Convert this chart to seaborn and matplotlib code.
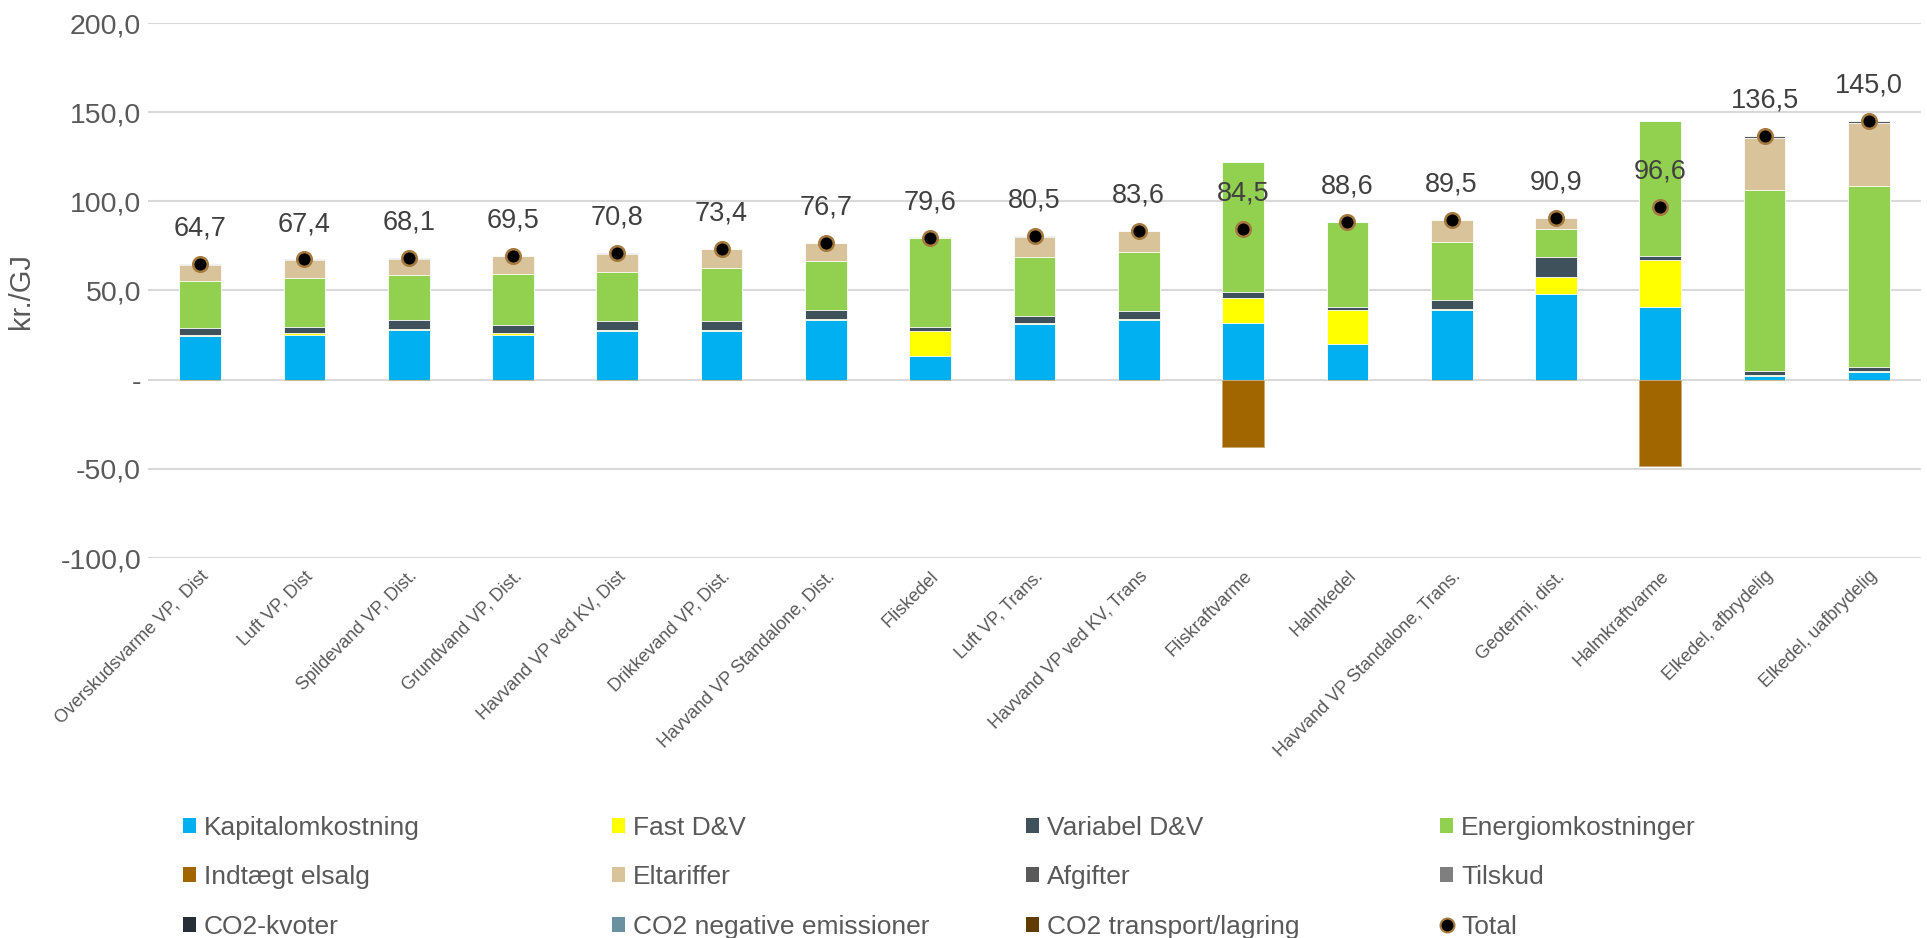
import numpy as np
import pandas as pd
import matplotlib
matplotlib.use("Agg")
import matplotlib.pyplot as plt
import seaborn as sns
from matplotlib.patches import Patch
from matplotlib.lines import Line2D

categories = ["Overskudsvarme VP,  Dist", "Luft VP, Dist", "Spildevand VP, Dist.", "Grundvand VP, Dist.",
              "Havvand VP ved KV, Dist", "Drikkevand VP, Dist.", "Havvand VP Standalone, Dist.",
              "Fliskedel", "Luft VP, Trans.", "Havvand VP ved KV, Trans", "Fliskraftvarme", "Halmkedel",
              "Havvand VP Standalone, Trans.", "Geotermi, dist.", "Halmkraftvarme",
              "Elkedel, afbrydelig", "Elkedel, uafbrydelig"]

kapital   = [24.3, 25.3, 27.7, 25.1, 27.2, 27.2, 33.3, 13.1, 31.1, 33.3, 31.8, 20.0, 38.9, 48.3, 40.6, 2.2, 4.1]
fast_dv   = [1.0, 0.8, 0.9, 0.9, 0.8, 0.8, 0.9, 14.0, 0.9, 0.9, 14.0, 19.3, 0.9, 9.0, 26.6, 0.4, 0.9]
variabel  = [3.4, 3.7, 4.7, 4.7, 5.1, 5.1, 4.7, 2.2, 3.7, 4.3, 3.4, 1.5, 4.7, 11.6, 2.1, 2.0, 2.2]
energi    = [26.6, 27.2, 25.3, 28.5, 27.0, 29.5, 27.5, 50.3, 33.0, 32.9, 72.8, 47.6, 32.8, 15.8, 75.7, 101.9, 101.3]
elsalg    = [0, 0, 0, 0, 0, 0, 0, 0, 0, 0, -37.5, 0, 0, 0, -48.4, 0, 0]
eltariffer = [9.1, 10.1, 9.2, 10.0, 10.4, 10.5, 10.0, 0, 11.5, 12.0, 0, 0, 12.0, 6.0, 0, 29.2, 35.4]
afgifter  = [0.3, 0.3, 0.3, 0.3, 0.3, 0.3, 0.3, 0.2, 0.3, 0.2, 0, 0.2, 0.2, 0.2, 0, 0.8, 1.1]
tilskud = [0] * 17
co2_kvoter = [0] * 17
co2_neg = [0] * 17
co2_trans = [0] * 17
total = [64.7, 67.4, 68.1, 69.5, 70.8, 73.4, 76.7, 79.6, 80.5, 83.6, 84.5, 88.6, 89.5, 90.9, 96.6, 136.5, 145.0]

series_names = ["Kapitalomkostning", "Fast D&V", "Variabel D&V", "Energiomkostninger",
                "Indtægt elsalg", "Eltariffer", "Afgifter", "Tilskud",
                "CO2-kvoter", "CO2 negative emissioner", "CO2 transport/lagring"]
colors = {"Kapitalomkostning": "#00B0F0", "Fast D&V": "#FFFF00", "Variabel D&V": "#3F525C",
          "Energiomkostninger": "#92D050", "Indtægt elsalg": "#A16600", "Eltariffer": "#D9C39A",
          "Afgifter": "#595959", "Tilskud": "#7F7F7F", "CO2-kvoter": "#262F38",
          "CO2 negative emissioner": "#6A919F", "CO2 transport/lagring": "#603C00"}

sns.set_style("white")
plt.rcParams['font.family'] = ['Liberation Sans', 'DejaVu Sans']

fig = plt.figure(figsize=(19.27, 9.38), dpi=100)
ax = fig.add_axes([148/1927, 1 - 558/938, (1921 - 148)/1927, (558 - 23)/938])

# positive stack, drawn from the full cumulative height downwards
pos_stack = [("Kapitalomkostning", kapital), ("Fast D&V", fast_dv), ("Variabel D&V", variabel),
             ("Energiomkostninger", energi), ("Eltariffer", eltariffer), ("Afgifter", afgifter)]
cum = np.cumsum(np.array([s for _, s in pos_stack]), axis=0)
for i in range(len(pos_stack) - 1, -1, -1):
    name = pos_stack[i][0]
    df = pd.DataFrame({"cat": categories, "val": cum[i]})
    sns.barplot(data=df, x="cat", y="val", color=colors[name], width=0.4, ax=ax,
                saturation=1, edgecolor="white", linewidth=0.6, zorder=2)

# negative part
df = pd.DataFrame({"cat": categories, "val": elsalg})
sns.barplot(data=df, x="cat", y="val", color=colors["Indtægt elsalg"], width=0.4, ax=ax,
            saturation=1, edgecolor="#C8A870", linewidth=0.6, zorder=2)

# totals
dft = pd.DataFrame({"cat": categories, "total": total})
sns.scatterplot(data=dft, x="cat", y="total", ax=ax, s=110, color="black",
                edgecolor="#A57A3E", linewidth=1.8, zorder=4, legend=False)
for i, t in enumerate(total):
    ax.annotate(f"{t:.1f}".replace(".", ","), (i, t), xytext=(0, 25.5), textcoords="offset points",
                ha="center", va="center", fontsize=19.5, color="#404040", zorder=5)

ax.set_ylim(-100, 200)
ax.set_xlim(-0.5, len(categories) - 0.5)
ax.set_yticks([-100, -50, 0, 50, 100, 150, 200])
ax.set_yticklabels(["-100,0", "-50,0", "-", "50,0", "100,0", "150,0", "200,0"],
                   fontsize=20.5, color="#595959")
ax.grid(axis="y", color="#D9D9D9", linewidth=1.5, zorder=0)
ax.set_axisbelow(True)
for sp in ax.spines.values():
    sp.set_visible(False)
ax.tick_params(axis="y", length=0, pad=5)
ax.set_xlabel("")
ax.set_ylabel("kr./GJ", fontsize=21, color="#595959")
ax.yaxis.set_label_coords(-0.064, 0.5)
ax.set_xticks(range(len(categories)))
ax.set_xticklabels(categories, rotation=45, ha="right", rotation_mode="anchor",
                   fontsize=13, color="#595959")
ax.tick_params(axis="x", length=0, pad=7)

# legend laid out row-wise in 4 columns
handles = {n: Patch(facecolor=colors[n], edgecolor="none") for n in series_names}
handles["Total"] = Line2D([], [], marker="o", linestyle="none", markerfacecolor="black",
                          markeredgecolor="#A57A3E", markeredgewidth=1.5, markersize=10)
order = series_names + ["Total"]
col_x = [183, 612, 1026, 1440]
for c in range(4):
    names = [order[r * 4 + c] for r in range(3)]
    leg = fig.legend([handles[n] for n in names], names, loc="upper left",
                     bbox_to_anchor=(col_x[c] / 1927, 1 - 816 / 938), frameon=False,
                     fontsize=19, handlelength=0.5, handleheight=0.5, handletextpad=0.3,
                     labelspacing=0.96, borderaxespad=0, borderpad=0)
    for t in leg.get_texts():
        t.set_color("#595959")

fig.savefig("out.png", dpi=100, facecolor="white")
